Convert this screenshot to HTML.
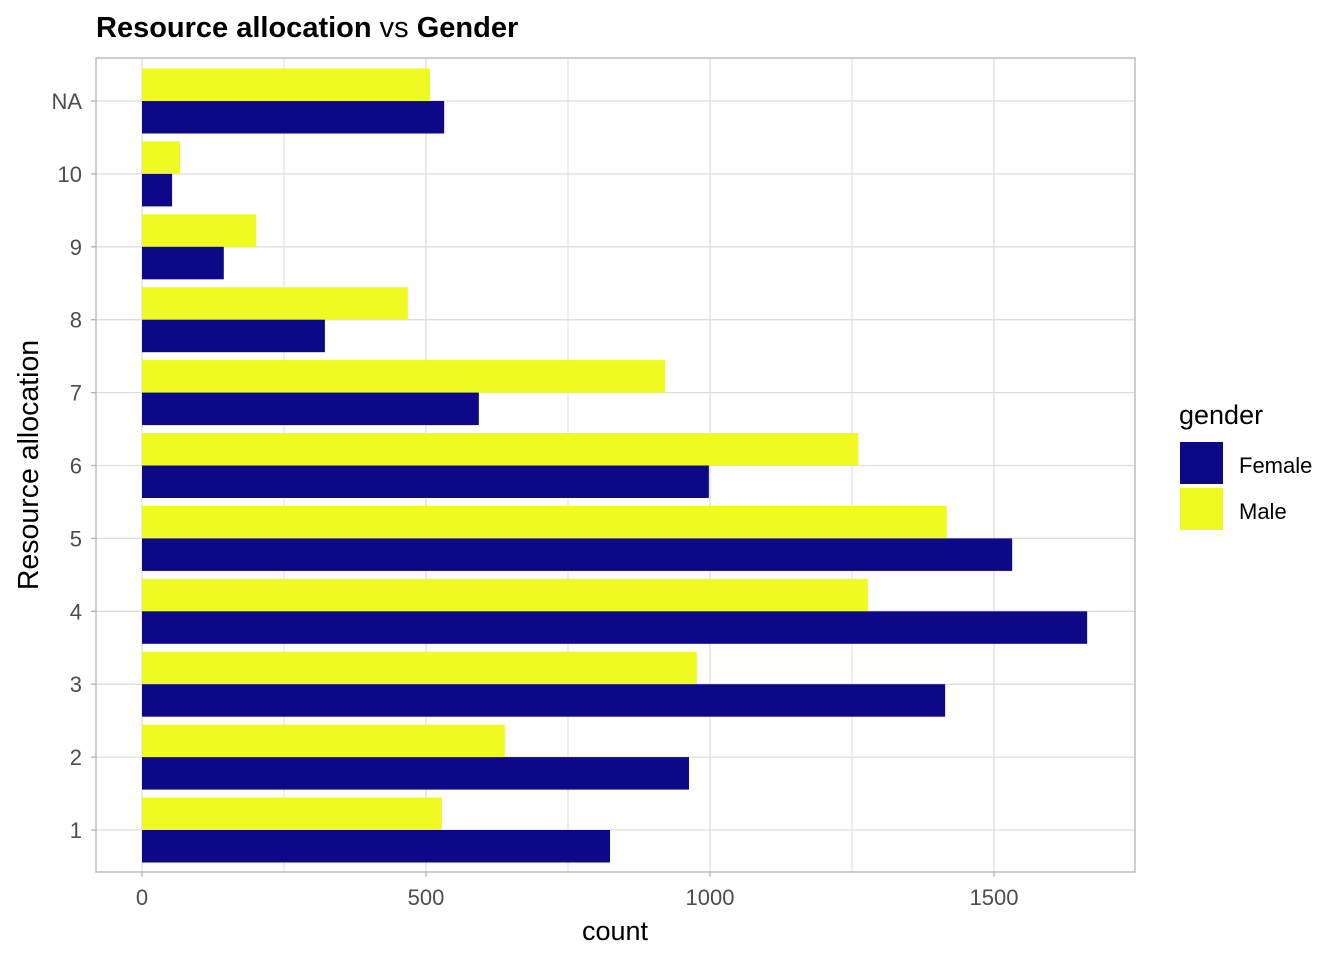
<!DOCTYPE html>
<html><head><meta charset="utf-8"><style>
body{margin:0;background:#fff;font-family:"Liberation Sans",Arial,sans-serif;}
svg text{font-family:"Liberation Sans",Arial,sans-serif;}
</style></head><body>
<svg id="chart" width="1344" height="960" xmlns="http://www.w3.org/2000/svg">
<text x="96" y="37" font-size="29" fill="#000"><tspan font-weight="bold">Resource allocation</tspan> vs <tspan font-weight="bold">Gender</tspan></text>
<g id="grid"></g><g id="bars"></g><g id="axes"></g>
<text x="615" y="940" font-size="27" text-anchor="middle">count</text>
<text transform="translate(38,465) rotate(-90)" font-size="28.5" text-anchor="middle">Resource allocation</text>
<g>
<text x="1179" y="424" font-size="27">gender</text>
<rect x="1180" y="442" width="43" height="42" fill="#0d0887"/>
<text x="1239" y="473" font-size="22">Female</text>
<rect x="1180" y="488" width="43" height="42" fill="#f0f921"/>
<text x="1239" y="519" font-size="22">Male</text>
</g>
</svg>
<script>
const categories=["1","2","3","4","5","6","7","8","9","10","NA"];
const femaleValues=[824,963,1414,1664,1532,998,593,322,144,53,532];
const maleValues=[528,639,977,1278,1417,1261,921,468,201,67,507];
const xTicks=[0,500,1000,1500];
const ns="http://www.w3.org/2000/svg";
const L=96,R=1135,T=58,B=872;
const x=v=>142+v*0.568;
const y=i=>830-i*72.9;
const bh=32.5;
function mk(p,tag,a){const e=document.createElementNS(ns,tag);for(const k in a)e.setAttribute(k,a[k]);p.appendChild(e);return e;}
const grid=document.getElementById('grid'),bars=document.getElementById('bars'),axes=document.getElementById('axes');
for(let v=0;v<=1750;v+=250){if(x(v)>R)break;const g=mk(grid,'line',{x1:x(v),x2:x(v),y1:T,y2:B,stroke:'#dedede','stroke-width':v%500?1:1.3});

}
categories.forEach((c,i)=>{const g=mk(grid,'line',{x1:L,x2:R,y1:y(i),y2:y(i),stroke:'#dedede','stroke-width':1.3});


const m=mk(bars,'rect',{x:x(0),y:y(i)-bh,width:x(maleValues[i])-x(0),height:bh,fill:'#f0f921'});


const f=mk(bars,'rect',{x:x(0),y:y(i),width:x(femaleValues[i])-x(0),height:bh,fill:'#0d0887'});


mk(axes,'line',{x1:L-5,x2:L,y1:y(i),y2:y(i),stroke:'#b3b3b3','stroke-width':1.3});
const t=mk(axes,'text',{x:L-14,y:y(i)+8,'font-size':22,fill:'#4d4d4d','text-anchor':'end'});t.textContent=c;

});
xTicks.forEach(v=>{mk(axes,'line',{x1:x(v),x2:x(v),y1:B,y2:B+5,stroke:'#b3b3b3','stroke-width':1.3});
const t=mk(axes,'text',{x:x(v),y:B+33,'font-size':22,fill:'#4d4d4d','text-anchor':'middle'});t.textContent=v;

});
const p=mk(axes,'rect',{x:L,y:T,width:R-L,height:B-T,fill:'none',stroke:'#b3b3b3','stroke-width':1.3});


</script>
</body></html>
